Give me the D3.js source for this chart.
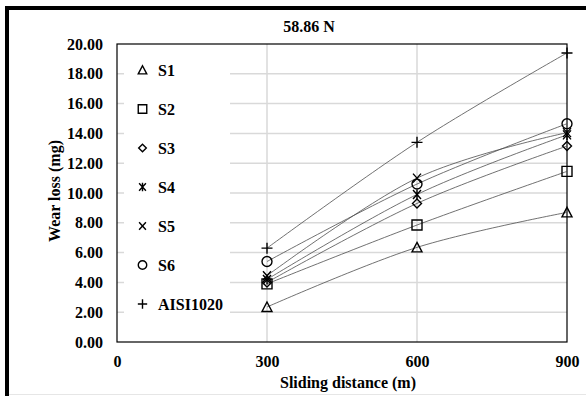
<!DOCTYPE html>
<html lang="en">
<head>
    <meta charset="UTF-8">
    <title>Wear loss 58.86 N</title>
    <script src="https://d3js.org/d3.v7.min.js"></script>
    <style>
        body {
            margin: 0;
            background: #fff;
        }
    </style>
</head>
<body>
    <div id="chart"></div>
    <script>
        const width = 586;
        const height = 396;
        const serif = "'Liberation Serif', Tinos, 'DejaVu Serif', serif";

        // data
        const distances = [300, 600, 900];
        const seriesNames = ["S1", "S2", "S3", "S4", "S5", "S6", "AISI1020"];
        const s1 = [2.35, 6.35, 8.7];
        const s2 = [3.9, 7.85, 11.45];
        const s3 = [4.0, 9.3, 13.15];
        const s4 = [4.2, 9.9, 13.9];
        const s5 = [4.45, 11.0, 14.05];
        const s6 = [5.4, 10.6, 14.65];
        const aisi = [6.3, 13.4, 19.4];
        const yTicks = [0, 2, 4, 6, 8, 10, 12, 14, 16, 18, 20];
        const xTicks = [0, 300, 600, 900];

        const allValues = [s1, s2, s3, s4, s5, s6, aisi];
        const symbols = ["triangle", "square", "diamond", "asterisk", "x", "circle", "plus"];

        const margin = { top: 44, right: 19, bottom: 54, left: 117 };
        const plotW = width - margin.left - margin.right;
        const plotH = height - margin.top - margin.bottom;
        const fs = 16;

        const svg = d3.select("#chart").append("svg")
            .attr("width", width)
            .attr("height", height)
            .attr("font-family", serif)
            .attr("font-weight", "bold");

        // frame of the picture (heavy top/left edges)
        svg.append("rect").attr("x", 5).attr("y", 6).attr("width", width - 5).attr("height", 4).attr("fill", "#000");
        svg.append("rect").attr("x", 5).attr("y", 6).attr("width", 4).attr("height", height - 6).attr("fill", "#000");
        svg.append("line").attr("x1", 9).attr("x2", width).attr("y1", 394.5).attr("y2", 394.5)
            .attr("stroke", "#e6e6e6");

        const x = d3.scaleLinear().domain([0, 900]).range([0, plotW]);
        const y = d3.scaleLinear().domain([0, 20]).range([plotH, 0]);

        const g = svg.append("g").attr("transform", `translate(${margin.left},${margin.top})`);

        // gridlines
        g.selectAll(".hgrid").data(yTicks.filter(d => d > 0 && d < 20)).enter()
            .append("line")
            .attr("x1", 0).attr("x2", plotW)
            .attr("y1", d => y(d)).attr("y2", d => y(d))
            .attr("stroke", "#d9d9d9").attr("stroke-width", 1.5);
        g.selectAll(".vgrid").data(xTicks.filter(d => d > 0 && d < 900)).enter()
            .append("line")
            .attr("x1", d => x(d)).attr("x2", d => x(d))
            .attr("y1", 0).attr("y2", plotH)
            .attr("stroke", "#d9d9d9").attr("stroke-width", 1.5);

        // legend sits on a white box inside the plot
        const legend = g.append("g").attr("transform", "translate(7,0)");
        legend.append("rect").attr("x", 0).attr("y", 10).attr("width", 106).attr("height", 275).attr("fill", "#fff");

        // plot border
        g.append("rect").attr("width", plotW).attr("height", plotH)
            .attr("fill", "none").attr("stroke", "#000").attr("stroke-width", 1.2);

        // axis labels
        const yAxis = svg.append("g").attr("transform", `translate(${margin.left},${margin.top})`)
            .call(d3.axisLeft(y).tickValues(yTicks).tickFormat(d3.format(".2f")).tickSize(0).tickPadding(14));
        yAxis.select(".domain").remove();
        yAxis.attr("font-family", serif).attr("font-size", fs);

        const xAxis = svg.append("g").attr("transform", `translate(${margin.left},${margin.top + plotH})`)
            .call(d3.axisBottom(x).tickValues(xTicks).tickSize(0).tickPadding(14));
        xAxis.select(".domain").remove();
        xAxis.attr("font-family", serif).attr("font-size", fs);

        svg.append("text")
            .attr("x", 348).attr("y", 388)
            .attr("text-anchor", "middle").attr("font-size", fs)
            .text("Sliding distance (m)");

        svg.append("text")
            .attr("transform", `translate(60,${margin.top + plotH / 2 - 2}) rotate(-90)`)
            .attr("text-anchor", "middle").attr("font-size", fs)
            .text("Wear loss (mg)");

        svg.append("text")
            .attr("x", 309).attr("y", 32)
            .attr("text-anchor", "middle").attr("font-size", fs)
            .text("58.86 N");

        // marker drawing
        function drawMarker(sel, type, s) {
            const p = sel.append("path").attr("fill", "none").attr("stroke", "#000").attr("stroke-width", 1.4)
                .attr("transform", `scale(${s})`).attr("vector-effect", "non-scaling-stroke");
            if (type === "triangle") p.attr("d", "M0,-5L5,4.5L-5,4.5Z");
            else if (type === "square") p.attr("d", "M-5,-5H5V5H-5Z");
            else if (type === "diamond") p.attr("d", "M0,-4.5L4.5,0L0,4.5L-4.5,0Z");
            else if (type === "asterisk") p.attr("d", "M-4,-4.5L4,4.5M-4,4.5L4,-4.5M0,-5V5");
            else if (type === "x") p.attr("d", "M-4,-4.5L4,4.5M-4,4.5L4,-4.5");
            else if (type === "circle") p.attr("d", d3.symbol(d3.symbolCircle, 78)());
            else if (type === "plus") p.attr("d", "M-5.5,0H5.5M0,-5.5V5.5");
        }

        const line = d3.line()
            .x((d, i) => x(distances[i]))
            .y(d => y(d))
            .curve(d3.curveCatmullRom.alpha(0));

        allValues.forEach(vals => {
            g.append("path")
                .attr("d", line(vals))
                .attr("fill", "none")
                .attr("stroke", "#4d4d4d")
                .attr("stroke-width", 0.8);
        });

        allValues.forEach((vals, k) => {
            vals.forEach((v, i) => {
                const m = g.append("g").attr("transform", `translate(${x(distances[i])},${y(v)})`);
                drawMarker(m, symbols[k], 1);
            });
        });

        // legend entries
        seriesNames.forEach((name, k) => {
            const ly = 26 + k * 39;
            const m = legend.append("g").attr("transform", `translate(18.5,${ly})`);
            drawMarker(m, symbols[k], 0.85);
            legend.append("text")
                .attr("x", 34).attr("y", ly + 5.5)
                .attr("font-size", fs)
                .text(name);
        });
    </script>
</body>
</html>
